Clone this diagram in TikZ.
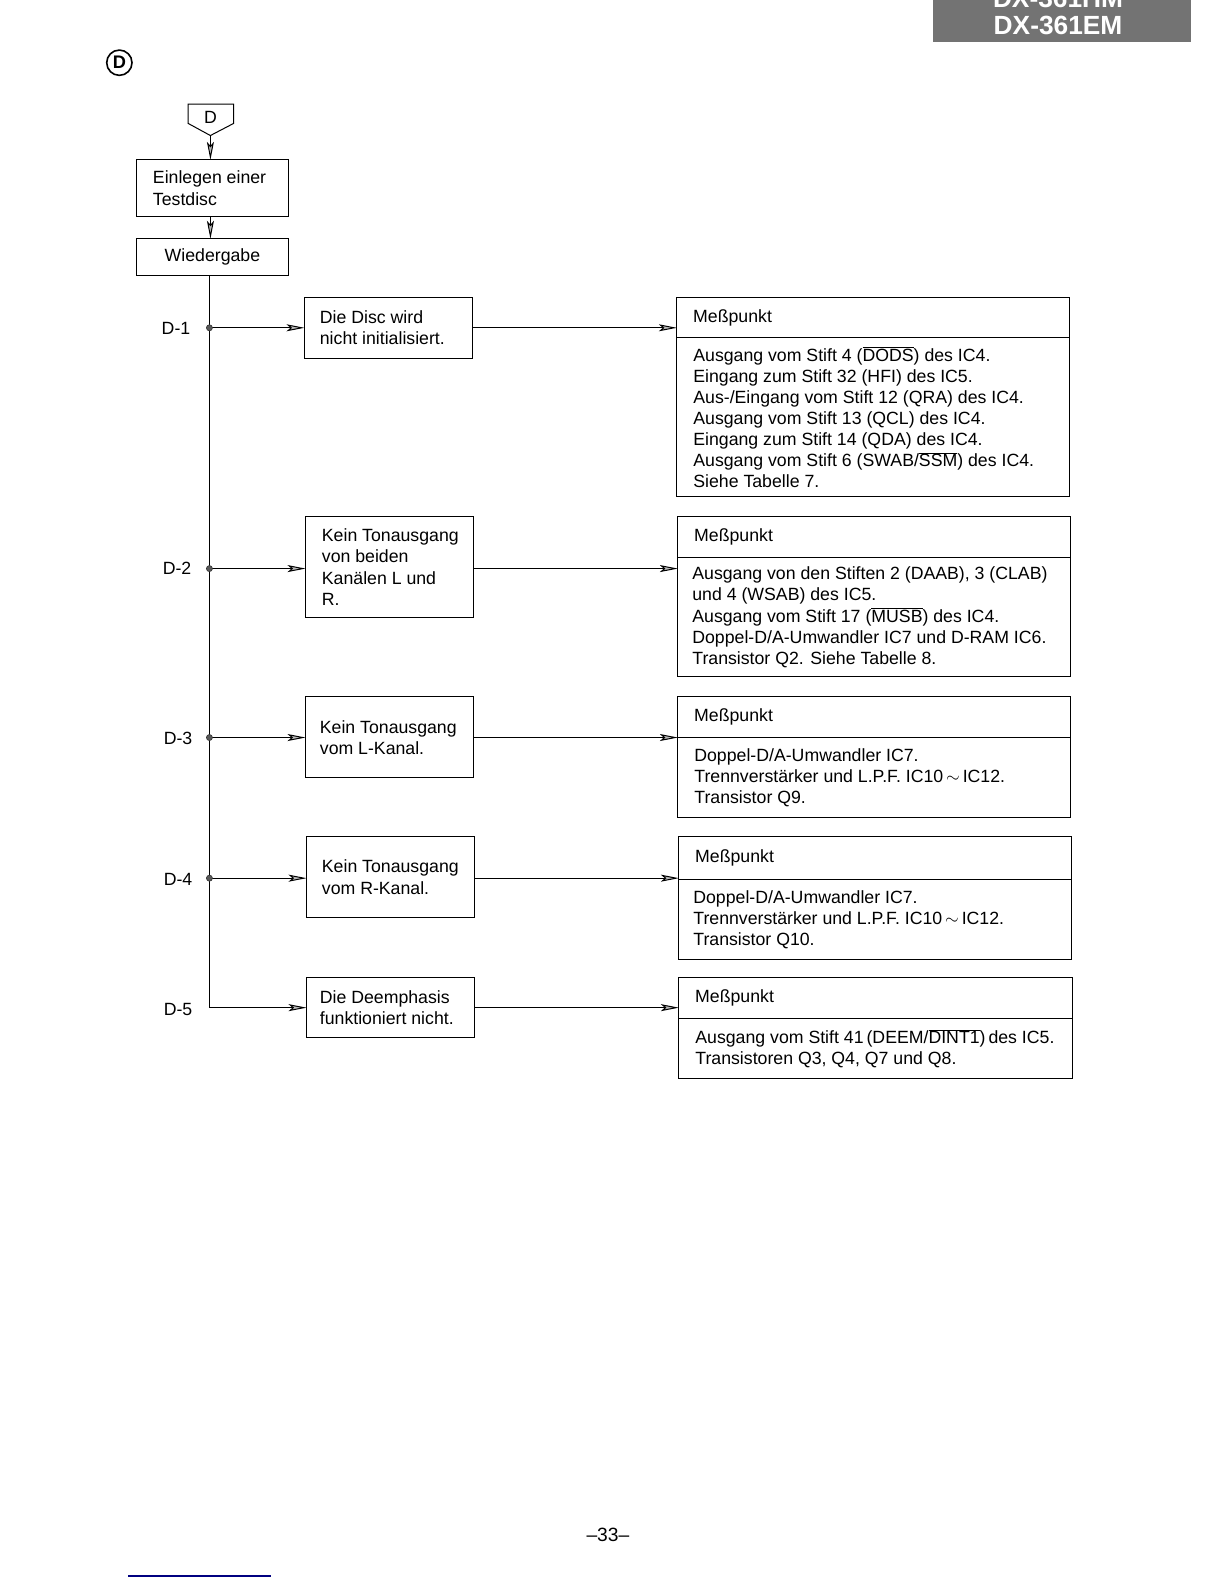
\documentclass[tikz,border=0pt]{standalone}
\usepackage{fontspec}
\setmainfont{Liberation Sans}
\usetikzlibrary{positioning, arrows.meta}
\newcommand{\ovbar}[1]{$\overline{\mbox{#1}}$}
\tikzset{
box/.style 2 args={draw, line width=1pt, minimum width=#1, minimum height=#2, anchor=north west, inner sep=0pt, outer sep=0pt}, % empty frame, size in px
txt/.style={anchor=west, align=left, inner sep=0pt, font=\fontsize{17.5}{20.8}\selectfont},
lbl/.style={inner sep=0pt, font=\fontsize{17.5}{20.8}\selectfont},
hdr/.style={text=white, inner sep=0pt, font=\bfseries\fontsize{26}{26}\selectfont},
flow/.style={line width=1pt, -{Stealth[length=18pt, width=7pt, inset=4pt, fill=gray!55]}},
junction/.style={fill=gray!70!black, draw=gray!40!black, line width=0.6pt},
}
\begin{document}
\begin{tikzpicture}[x=1pt, y=-1pt, scale=1.0115, every node/.append style={transform shape}]
\useasboundingbox (0,0) rectangle (1210.1,1566);

% model header
\fill[black!55] (922,0) rectangle (1177,42);
\node[hdr] (model1) at (1046,-2) {DX-361HM};
\node[hdr] (model2) at (1046,25) {DX-361EM};
\node[circle, draw, line width=1.6pt, minimum size=25, inner sep=0pt, font=\bfseries\fontsize{18}{18}\selectfont] (sect) at (118,62) {D};

% start
\draw[line width=1pt] (186,103) -- (231,103) -- (231,122) -- (208,134) -- (186,122) -- cycle;
\node[lbl] (start) at (208,116) {D};
\coordinate (tip) at (208,134);

\node[box={150}{56}] (load) at (135,158) {};
\node[txt, right=16pt of load.west] {Einlegen einer\\Testdisc};
\node[box={150}{36}] (play) at (135,236) {};
\node[lbl] at (play.center) {Wiedergabe};

\draw[flow] (tip) -- (tip |- load.north);
\draw[flow] (tip |- load.south) -- (tip |- play.north);

% branch points
\coordinate (d1) at (207,324);
\coordinate (d2) at (207,562);
\coordinate (d3) at (207,729);
\coordinate (d4) at (207,868);
\coordinate (d5) at (207,996);
\node[lbl] at (174,325) {D-1};
\node[lbl] at (175,562) {D-2};
\node[lbl] at (176,730) {D-3};
\node[lbl] at (176,869) {D-4};
\node[lbl] at (176,998) {D-5};

% faults
\node[box={166}{60}] (f1) at (301,294) {};
\node[txt, right=15pt of f1.west] {Die Disc wird\\nicht initialisiert.};
\node[box={166}{99}] (f2) at (302,511) {};
\node[txt, right=16pt of f2.west] {Kein Tonausgang\\von beiden\\Kanälen L und\\R.};
\node[box={166}{80}] (f3) at (302,689) {};
\node[txt, right=14pt of f3.west] {Kein Tonausgang\\vom L-Kanal.};
\node[box={166}{80}] (f4) at (303,827) {};
\node[txt, right=15pt of f4.west] {Kein Tonausgang\\vom R-Kanal.};
\node[box={166}{60}] (f5) at (303,966) {};
\node[txt, right=13pt of f5.west] {Die Deemphasis\\funktioniert nicht.};

% measuring points
\node[box={388}{40}] (h1) at (669,294) {};
\node[box={388}{157}] (b1) at (h1.south west) {};
\node[txt, right=16pt of h1.west] {Meßpunkt};
\node[txt, right=16pt of b1.west] {Ausgang vom Stift 4 (\ovbar{DODS}) des IC4.\\
Eingang zum Stift 32 (HFI) des IC5.\\
Aus-/Eingang vom Stift 12 (QRA) des IC4.\\
Ausgang vom Stift 13 (QCL) des IC4.\\
Eingang zum Stift 14 (QDA) des IC4.\\
Ausgang vom Stift 6 (SWAB/\ovbar{SSM}) des IC4.\\
Siehe Tabelle 7.};

\node[box={388}{40}] (h2) at (670,511) {};
\node[box={388}{118}] (b2) at (h2.south west) {};
\node[txt, right=16pt of h2.west] {Meßpunkt};
\node[txt, right=14pt of b2.west] {Ausgang von den Stiften 2 (DAAB), 3 (CLAB)\\
und 4 (WSAB) des IC5.\\
Ausgang vom Stift 17 (\ovbar{MUSB}) des IC4.\\
Doppel-D/A-Umwandler IC7 und D-RAM IC6.\\
Transistor Q2. Siehe Tabelle 8.};

\node[box={388}{40}] (h3) at (670,689) {};
\node[box={388}{79}] (b3) at (h3.south west) {};
\node[txt, right=16pt of h3.west] {Meßpunkt};
\node[txt, right=16pt of b3.west] {Doppel-D/A-Umwandler IC7.\\
Trennverstärker und L.P.F. IC10\,$\sim$\,IC12.\\
Transistor Q9.};

\node[box={388}{42}] (h4) at (671,827) {};
\node[box={388}{79}] (b4) at (h4.south west) {};
\node[txt, right=16pt of h4.west] {Meßpunkt};
\node[txt, right=14pt of b4.west] {Doppel-D/A-Umwandler IC7.\\
Trennverstärker und L.P.F. IC10\,$\sim$\,IC12.\\
Transistor Q10.};

\node[box={389}{41}] (h5) at (671,966) {};
\node[box={389}{59}] (b5) at (h5.south west) {};
\node[txt, right=16pt of h5.west] {Meßpunkt};
\node[txt, right=16pt of b5.west] {Ausgang vom Stift 41\,(DEEM/\ovbar{DINT1})\,des IC5.\\
Transistoren Q3, Q4, Q7 und Q8.};

% connectors
\draw[line width=1pt] (d1 |- play.south) -- (d5);
\draw[flow] (d1) -- (d1 -| f1.west);
\draw[flow] (d2) -- (d2 -| f2.west);
\draw[flow] (d3) -- (d3 -| f3.west);
\draw[flow] (d4) -- (d4 -| f4.west);
\draw[flow] (d5) -- (d5 -| f5.west);
\foreach \d in {d1,d2,d3,d4} \filldraw[junction] (\d) circle (3);

\draw[flow] (f1.east |- d1) -- (h1.west |- d1);
\draw[flow] (f2.east |- d2) -- (h2.west |- d2);
\draw[flow] (f3.east |- d3) -- (h3.west |- d3);
\draw[flow] (f4.east |- d4) -- (h4.west |- d4);
\draw[flow] (f5.east |- d5) -- (h5.west |- d5);

% page number
\node[lbl, font=\fontsize{19}{19}\selectfont] (page) at (601,1517) {\textendash33\textendash};
\draw[blue!50!black, line width=1.5pt] (127,1558) -- (268,1558);
\end{tikzpicture}
\end{document}
